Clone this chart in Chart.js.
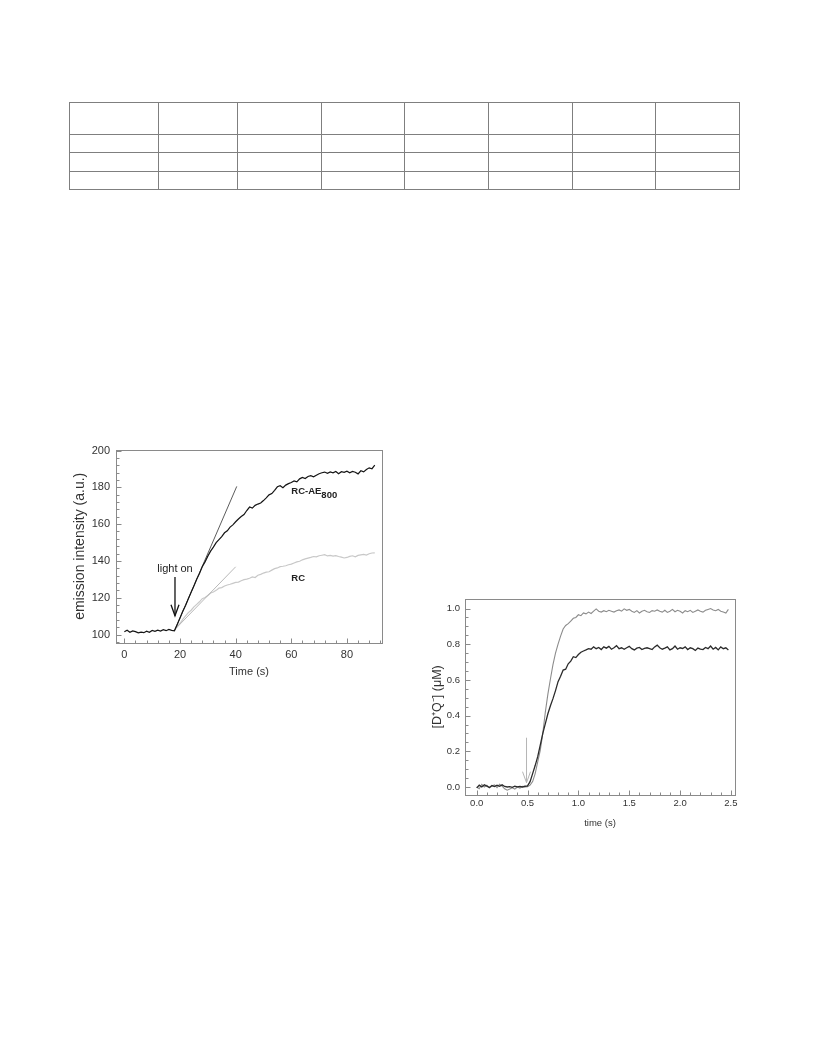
<!DOCTYPE html>
<html>
<head>
<meta charset="utf-8">
<script src="https://cdn.jsdelivr.net/npm/chart.js@4.4.1/dist/chart.umd.min.js"></script>
<style>
body { margin: 0; background: #fff; width: 816px; height: 1056px; position: relative; font-family: "Liberation Sans", Arial, sans-serif; }
table { position: absolute; left: 69px; top: 102px; border-collapse: collapse; table-layout: fixed; width: 671px; }
td { border: 1px solid #7f7f7f; padding: 0; }
.box { position: absolute; }
</style>
</head>
<body>
<table>
  <colgroup>
    <col style="width:89px"><col style="width:79px"><col style="width:84px"><col style="width:83px">
    <col style="width:84px"><col style="width:84px"><col style="width:83px"><col style="width:84px">
  </colgroup>
  <tr style="height:32px"><td></td><td></td><td></td><td></td><td></td><td></td><td></td><td></td></tr>
  <tr style="height:18px"><td></td><td></td><td></td><td></td><td></td><td></td><td></td><td></td></tr>
  <tr style="height:19px"><td></td><td></td><td></td><td></td><td></td><td></td><td></td><td></td></tr>
  <tr style="height:18px"><td></td><td></td><td></td><td></td><td></td><td></td><td></td><td></td></tr>
</table>

<div class="box" style="left:70px;top:437px"><canvas id="emission" width="330" height="250"></canvas></div>
<div class="box" style="left:425px;top:588px"><canvas id="dq" width="320" height="250"></canvas></div>

<script>
// ---------------- left panel: emission intensity vs time ----------------
const rcaeTime = [0,1,2,3,4,5,6,7,8,9,10,11,12,13,14,15,16,17,18,19,20,21,22,23,24,25,26,27,28,29,
  30,31,32,33,34,35,36,37,38,39,40,41,42,43,44,45,46,47,48,49,50,51,52,53,54,55,56,57,58,59,
  60,61,62,63,64,65,66,67,68,69,70,71,72,73,74,75,76,77,78,79,80,81,82,83,84,85,86,87,88,89,90];
const rcaeValues = [
  101.5,102.3,101.2,102.0,101.6,100.9,101.3,101.0,101.8,101.2,
  102.2,101.7,102.4,101.9,102.6,102.1,102.8,102.3,102.0,105.5,
  109.0,112.6,115.8,119.5,123.0,126.4,130.0,133.2,136.8,139.5,
  142.6,145.3,147.5,149.9,151.6,153.2,155.3,156.4,158.4,159.6,
  161.3,162.8,164.1,165.2,167.4,169.3,168.7,170.2,170.9,171.5,
  172.8,174.3,175.9,176.6,178.4,180.3,180.9,179.8,181.2,182.0,
  182.6,183.5,183.0,184.6,185.4,184.8,185.9,186.3,185.7,186.6,
  187.4,187.9,188.3,187.6,188.4,187.9,188.6,187.4,188.5,188.1,
  188.8,187.9,188.6,188.2,187.3,189.0,188.4,189.7,190.6,190.1,
  192.0];
const rcTime = [18,19,20,21,22,23,24,25,26,27,28,29,30,31,32,33,34,35,36,37,38,39,40,41,42,43,44,45,46,47,
  48,49,50,51,52,53,54,55,56,57,58,59,60,61,62,63,64,65,66,67,68,69,70,71,72,73,74,75,76,77,
  78,79,80,81,82,83,84,85,86,87,88,89,90];
const rcValues = [
  102.5,104.3,106.0,108.2,110.1,111.9,113.2,115.0,116.4,117.8,
  119.5,120.1,121.2,122.6,123.1,124.0,125.2,125.5,126.4,126.9,
  127.3,127.8,128.3,128.5,129.2,129.8,130.1,130.6,131.3,131.0,
  132.2,132.7,133.4,133.9,134.1,135.0,135.8,136.2,136.9,137.1,
  137.4,137.9,138.3,138.9,139.5,139.8,140.6,141.1,141.5,141.9,
  142.4,142.2,142.8,143.1,143.4,142.7,143.0,142.6,142.9,142.4,
  142.1,141.6,141.9,142.5,142.8,142.2,143.0,143.3,143.6,143.2,
  143.9,144.3,144.4];
// initial-slope lines
const rcaeSlopeX = [18, 40.4], rcaeSlopeY = [102, 180.5];
const rcSlopeX = [18, 40], rcSlopeY = [102.5, 136.8];
const leftXTicks = [0, 20, 40, 60, 80];
const leftYTicks = [100, 120, 140, 160, 180, 200];

// ---------------- right panel: [D+Q-] vs time ----------------
const dqTime = [0,0.025,0.05,0.075,0.1,0.125,0.15,0.175,0.2,0.225,0.25,0.275,0.3,0.325,0.35,0.375,0.4,0.425,0.45,0.475,
  0.5,0.525,0.55,0.575,0.6,0.625,0.65,0.675,0.7,0.725,0.75,0.775,0.8,0.825,0.85,0.875,0.9,0.925,0.95,0.975,
  1,1.025,1.05,1.075,1.1,1.125,1.15,1.175,1.2,1.225,1.25,1.275,1.3,1.325,1.35,1.375,1.4,1.425,1.45,1.475,
  1.5,1.525,1.55,1.575,1.6,1.625,1.65,1.675,1.7,1.725,1.75,1.775,1.8,1.825,1.85,1.875,1.9,1.925,1.95,1.975,
  2,2.025,2.05,2.075,2.1,2.125,2.15,2.175,2.2,2.225,2.25,2.275,2.3,2.325,2.35,2.375,2.4,2.425,2.45,2.475];
const dqLower = [
  -0.005,0.010,0.000,0.012,0.005,-0.003,0.008,0.002,0.010,0.004,0.012,0.003,0.000,0.002,-0.002,0.004,0.001,0.003,0.000,0.004,
  0.006,0.030,0.075,0.120,0.170,0.235,0.300,0.355,0.410,0.455,0.495,0.540,0.590,0.620,0.655,0.660,0.690,0.705,0.730,0.725,
  0.742,0.755,0.762,0.768,0.775,0.772,0.785,0.775,0.782,0.770,0.785,0.778,0.788,0.772,0.780,0.792,0.775,0.780,0.772,0.780,
  0.788,0.775,0.768,0.778,0.782,0.770,0.776,0.780,0.775,0.770,0.785,0.795,0.780,0.772,0.778,0.785,0.768,0.775,0.790,0.772,
  0.780,0.776,0.785,0.770,0.780,0.775,0.765,0.778,0.772,0.770,0.782,0.775,0.790,0.772,0.782,0.768,0.785,0.775,0.780,0.768];
const dqUpper = [
  0.000,-0.010,0.015,0.000,0.010,-0.005,0.005,0.012,-0.004,0.015,0.005,-0.010,-0.018,-0.012,-0.005,-0.012,0.000,-0.006,0.003,0.000,
  0.002,0.010,0.030,0.075,0.140,0.205,0.300,0.420,0.520,0.605,0.685,0.750,0.800,0.845,0.885,0.905,0.915,0.930,0.945,0.950,
  0.965,0.960,0.975,0.970,0.980,0.972,0.985,0.998,0.985,0.980,0.988,0.982,0.990,0.985,0.980,0.988,0.992,0.985,0.998,0.990,
  0.995,0.985,0.978,0.988,0.975,0.985,0.990,0.982,0.978,0.988,0.985,0.992,0.985,0.980,0.990,0.978,0.985,0.995,0.982,0.990,
  0.985,0.975,0.988,0.982,0.990,0.978,0.985,0.992,0.985,0.980,0.990,0.995,1.000,0.992,0.988,0.995,0.985,0.980,0.975,0.995];
const rightXTicks = [0, 0.5, 1, 1.5, 2, 2.5];
const rightYTicks = [0, 0.2, 0.4, 0.6, 0.8, 1];

const FONT = '"Liberation Sans", Arial, sans-serif';
Chart.defaults.font.family = FONT;
Chart.defaults.color = '#333';
Chart.defaults.animation = false;

const pts = (xs, ys) => xs.map((x, i) => ({x: x, y: ys[i]}));
const steps = (from, to, step) => {
  const out = [];
  for (let v = from; v <= to + 1e-9; v += step) out.push(Math.round(v * 1000) / 1000);
  return out;
};
function strokeLine(ctx, x1, y1, x2, y2) {
  ctx.beginPath(); ctx.moveTo(x1, y1); ctx.lineTo(x2, y2); ctx.stroke();
}

// box frame + inward tick marks
const frameTicks = {
  id: 'frameTicks',
  afterDraw(chart, args, o) {
    const {ctx, chartArea: a, scales: {x, y}} = chart;
    const l = Math.round(a.left) + 0.5, b = Math.round(a.bottom) + 0.5;
    ctx.save();
    ctx.strokeStyle = o.color;
    ctx.lineWidth = 1;
    ctx.strokeRect(l, Math.round(a.top) + 0.5, Math.round(a.right - a.left), Math.round(a.bottom - a.top));
    o.xMinor.forEach(v => { const p = Math.round(x.getPixelForValue(v)) + 0.5; strokeLine(ctx, p, b, p, b - 3); });
    o.xMajor.forEach(v => { const p = Math.round(x.getPixelForValue(v)) + 0.5; strokeLine(ctx, p, b, p, b - 5); });
    o.yMinor.forEach(v => { const p = Math.round(y.getPixelForValue(v)) + 0.5; strokeLine(ctx, l, p, l + 3, p); });
    o.yMajor.forEach(v => { const p = Math.round(y.getPixelForValue(v)) + 0.5; strokeLine(ctx, l, p, l + 5, p); });
    ctx.restore();
  }
};

function arrowDown(ctx, px, top, tip) {
  strokeLine(ctx, px, top, px, tip);
  ctx.beginPath(); ctx.moveTo(px - 4, tip - 11); ctx.lineTo(px, tip); ctx.lineTo(px + 4, tip - 11); ctx.stroke();
}

const leftNotes = {
  id: 'leftNotes',
  afterDatasetsDraw(chart) {
    const {ctx, scales: {x, y}} = chart;
    ctx.save();
    ctx.fillStyle = '#222';
    ctx.strokeStyle = '#111';
    ctx.lineWidth = 1.3;
    ctx.font = '11px ' + FONT;
    ctx.textAlign = 'center';
    ctx.textBaseline = 'middle';
    const ax = x.getPixelForValue(18.2);
    ctx.fillText('light on', ax, y.getPixelForValue(135.6));
    arrowDown(ctx, ax, y.getPixelForValue(131.3), y.getPixelForValue(110.2));
    ctx.font = 'bold 9.5px ' + FONT;
    ctx.textAlign = 'left';
    const lx = x.getPixelForValue(60), ly = y.getPixelForValue(177.8);
    ctx.fillText('RC-AE', lx, ly);
    ctx.fillText('800', lx + ctx.measureText('RC-AE').width, ly + 4);
    ctx.fillText('RC', lx, y.getPixelForValue(130.4));
    ctx.restore();
  }
};

const rightNotes = {
  id: 'rightNotes',
  afterDatasetsDraw(chart) {
    const {ctx, scales: {x, y}} = chart;
    ctx.save();
    ctx.strokeStyle = '#b5b5b5';
    ctx.lineWidth = 1;
    arrowDown(ctx, x.getPixelForValue(0.49), y.getPixelForValue(0.276), y.getPixelForValue(0.024));
    ctx.restore();
  }
};

function lineSet(data, color, width) {
  return {data: data, borderColor: color, borderWidth: width, pointRadius: 0, tension: 0, fill: false};
}

new Chart(document.getElementById('emission').getContext('2d'), {
  type: 'line',
  data: {
    datasets: [
      lineSet(pts(rcaeTime, rcaeValues), '#151515', 1.2),
      lineSet(pts(rcSlopeX, rcSlopeY), '#b0b0b0', 0.9),
      lineSet(pts(rcaeSlopeX, rcaeSlopeY), '#4a4a4a', 0.9),
      lineSet(pts(rcTime, rcValues), '#c8c8c8', 1.2),
    ],
  },
  options: {
    responsive: false,
    layout: {padding: {top: 8, right: 18, left: 0, bottom: 0}},
    plugins: {
      legend: {display: false},
      tooltip: {enabled: false},
      frameTicks: {color: '#8a8a8a', xMajor: leftXTicks, yMajor: leftYTicks,
        xMinor: steps(0, 92, 4), yMinor: steps(96, 200, 4)},
    },
    scales: {
      x: {
        type: 'linear', min: -3, max: 92.6,
        afterBuildTicks: s => { s.ticks = leftXTicks.map(v => ({value: v})); },
        afterFit: s => { s.height = 44; },
        grid: {display: false, drawTicks: false},
        border: {display: false},
        ticks: {padding: 5, maxRotation: 0, autoSkip: false, font: {size: 11}, color: '#333'},
        title: {display: true, text: 'Time (s)', color: '#333', font: {size: 11}, padding: {top: 0, bottom: 8}},
      },
      y: {
        type: 'linear', min: 95.4, max: 200.5,
        afterBuildTicks: s => { s.ticks = leftYTicks.map(v => ({value: v})); },
        afterFit: s => { s.width = 46; },
        grid: {display: false, drawTicks: false},
        border: {display: false},
        ticks: {padding: 6, font: {size: 11}, color: '#333'},
        title: {display: true, text: 'emission intensity (a.u.)', color: '#333', font: {size: 14}, padding: {top: 2, bottom: 0}},
      },
    },
  },
  plugins: [frameTicks, leftNotes],
});

new Chart(document.getElementById('dq').getContext('2d'), {
  type: 'line',
  data: {
    datasets: [
      lineSet(pts(dqTime, dqLower), '#2b2b2b', 1.3),
      lineSet(pts(dqTime, dqUpper), '#8c8c8c', 1.1),
    ],
  },
  options: {
    responsive: false,
    layout: {padding: {top: 8, right: 10, left: 0, bottom: 0}},
    plugins: {
      legend: {display: false},
      tooltip: {enabled: false},
      frameTicks: {color: '#8a8a8a', xMajor: rightXTicks, yMajor: rightYTicks,
        xMinor: steps(0, 2.5, 0.1), yMinor: steps(0, 1, 0.05)},
    },
    scales: {
      x: {
        type: 'linear', min: -0.115, max: 2.54,
        afterBuildTicks: s => { s.ticks = rightXTicks.map(v => ({value: v})); },
        afterFit: s => { s.height = 43; },
        grid: {display: false, drawTicks: false},
        border: {display: false},
        ticks: {padding: 3, maxRotation: 0, autoSkip: false, font: {size: 9.5}, color: '#333',
          callback: v => v.toFixed(1)},
        title: {display: true, text: 'time (s)', color: '#333', font: {size: 9.5}, padding: {top: 0, bottom: 9}},
      },
      y: {
        type: 'linear', min: -0.045, max: 1.055,
        afterBuildTicks: s => { s.ticks = rightYTicks.map(v => ({value: v})); },
        afterFit: s => { s.width = 40; },
        grid: {display: false, drawTicks: false},
        border: {display: false},
        ticks: {padding: 5, font: {size: 9.5}, color: '#333', callback: v => v.toFixed(1)},
        title: {display: true, text: '[D\u207AQ\u207B] (\u03BCM)', color: '#333', font: {size: 12.5}, padding: {top: 5, bottom: 0}},
      },
    },
  },
  plugins: [frameTicks, rightNotes],
});
</script>
</body>
</html>
